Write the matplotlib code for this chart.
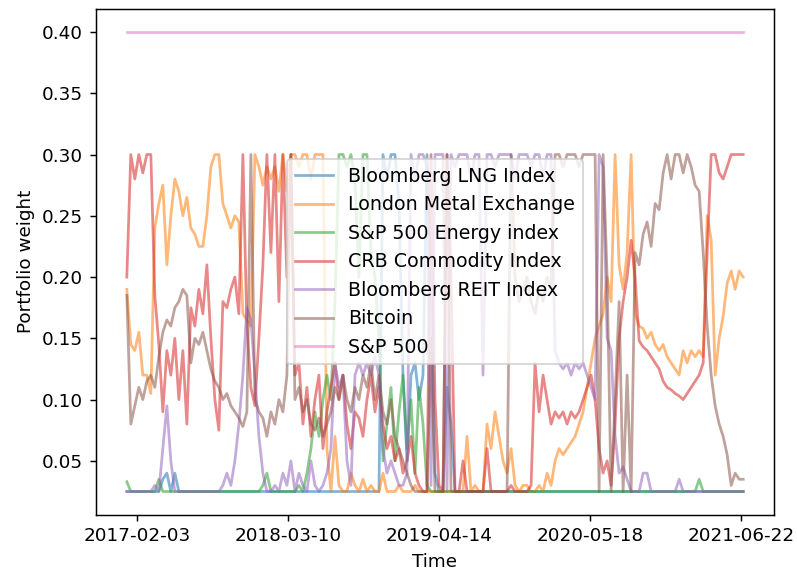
import matplotlib
matplotlib.use("Agg")
import matplotlib.pyplot as plt
import matplotlib.dates as mdates
import pandas as pd

start_date = "2017-01-07"
end_date = "2021-06-27"
n_points = 155

tick_labels = ["2017-02-03", "2018-03-10", "2019-04-14", "2020-05-18", "2021-06-22"]

names = ["Bloomberg LNG Index", "London Metal Exchange", "S&P 500 Energy index",
         "CRB Commodity Index", "Bloomberg REIT Index", "Bitcoin", "S&P 500"]

lng = [
    0.025, 0.025, 0.025, 0.025, 0.025, 0.025, 0.025, 0.025, 0.025, 0.035,
    0.04, 0.025, 0.04, 0.025, 0.025, 0.025, 0.025, 0.025, 0.025, 0.025,
    0.025, 0.025, 0.025, 0.025, 0.025, 0.025, 0.025, 0.025, 0.025, 0.025,
    0.025, 0.025, 0.025, 0.025, 0.025, 0.025, 0.025, 0.025, 0.025, 0.025,
    0.025, 0.025, 0.025, 0.025, 0.025, 0.025, 0.025, 0.025, 0.025, 0.025,
    0.025, 0.025, 0.025, 0.025, 0.025, 0.025, 0.025, 0.025, 0.025, 0.025,
    0.025, 0.025, 0.025, 0.025, 0.30, 0.28, 0.30, 0.30, 0.26, 0.12,
    0.05, 0.12, 0.13, 0.10, 0.12, 0.30, 0.20, 0.04, 0.025, 0.025,
    0.11, 0.08, 0.025, 0.025, 0.025, 0.025, 0.025, 0.025, 0.025, 0.025,
    0.025, 0.025, 0.025, 0.025, 0.025, 0.025, 0.025, 0.025, 0.025, 0.025,
    0.025, 0.025, 0.025, 0.025, 0.025, 0.025, 0.025, 0.025, 0.025, 0.025,
    0.025, 0.025, 0.025, 0.025, 0.025, 0.025, 0.025, 0.025, 0.025, 0.025,
    0.025, 0.025, 0.025, 0.025, 0.025, 0.025, 0.025, 0.025, 0.025, 0.025,
    0.025, 0.025, 0.025, 0.025, 0.025, 0.025, 0.025, 0.025, 0.025, 0.025,
    0.025, 0.025, 0.025, 0.025, 0.025, 0.025, 0.025, 0.025, 0.025, 0.025,
    0.025, 0.025, 0.025, 0.025, 0.025,
]

lme = [
    0.19, 0.145, 0.14, 0.155, 0.12, 0.12, 0.105, 0.24, 0.26, 0.275,
    0.21, 0.25, 0.28, 0.27, 0.25, 0.265, 0.24, 0.235, 0.225, 0.225,
    0.25, 0.29, 0.30, 0.30, 0.26, 0.25, 0.24, 0.25, 0.245, 0.17,
    0.165, 0.16, 0.30, 0.29, 0.275, 0.29, 0.28, 0.29, 0.27, 0.30,
    0.27, 0.30, 0.30, 0.29, 0.30, 0.30, 0.28, 0.30, 0.30, 0.30,
    0.06, 0.025, 0.07, 0.03, 0.025, 0.025, 0.04, 0.03, 0.025, 0.035,
    0.025, 0.03, 0.025, 0.025, 0.04, 0.025, 0.025, 0.025, 0.03, 0.025,
    0.025, 0.025, 0.03, 0.025, 0.025, 0.025, 0.025, 0.025, 0.025, 0.025,
    0.025, 0.025, 0.025, 0.025, 0.025, 0.07, 0.025, 0.03, 0.025, 0.025,
    0.08, 0.06, 0.09, 0.07, 0.05, 0.04, 0.06, 0.03, 0.025, 0.03,
    0.03, 0.025, 0.025, 0.03, 0.025, 0.04, 0.03, 0.05, 0.06, 0.055,
    0.06, 0.065, 0.07, 0.08, 0.09, 0.11, 0.13, 0.15, 0.16, 0.17,
    0.20, 0.18, 0.30, 0.21, 0.19, 0.22, 0.30, 0.17, 0.16, 0.158,
    0.15, 0.155, 0.145, 0.14, 0.145, 0.135, 0.13, 0.125, 0.12, 0.14,
    0.13, 0.14, 0.135, 0.14, 0.135, 0.25, 0.23, 0.12, 0.15, 0.168,
    0.195, 0.205, 0.19, 0.205, 0.20,
]

energy = [
    0.033, 0.025, 0.025, 0.025, 0.025, 0.025, 0.025, 0.025, 0.035, 0.025,
    0.025, 0.025, 0.025, 0.025, 0.025, 0.025, 0.025, 0.025, 0.025, 0.025,
    0.025, 0.025, 0.025, 0.025, 0.025, 0.025, 0.025, 0.025, 0.025, 0.025,
    0.025, 0.025, 0.025, 0.025, 0.03, 0.04, 0.025, 0.025, 0.025, 0.025,
    0.025, 0.025, 0.025, 0.03, 0.025, 0.04, 0.06, 0.09, 0.07, 0.10,
    0.12, 0.10, 0.18, 0.30, 0.30, 0.29, 0.30, 0.28, 0.20, 0.30,
    0.30, 0.22, 0.20, 0.15, 0.05, 0.08, 0.11, 0.05, 0.09, 0.12,
    0.06, 0.10, 0.04, 0.11, 0.08, 0.03, 0.025, 0.025, 0.025, 0.025,
    0.025, 0.025, 0.025, 0.025, 0.025, 0.025, 0.025, 0.025, 0.025, 0.025,
    0.025, 0.025, 0.025, 0.025, 0.025, 0.025, 0.025, 0.025, 0.025, 0.025,
    0.025, 0.025, 0.025, 0.025, 0.025, 0.025, 0.025, 0.025, 0.025, 0.025,
    0.025, 0.025, 0.025, 0.025, 0.025, 0.025, 0.025, 0.025, 0.025, 0.025,
    0.025, 0.025, 0.025, 0.025, 0.025, 0.025, 0.025, 0.025, 0.025, 0.025,
    0.025, 0.025, 0.025, 0.025, 0.025, 0.025, 0.025, 0.025, 0.025, 0.025,
    0.025, 0.025, 0.025, 0.035, 0.025, 0.025, 0.025, 0.025, 0.025, 0.025,
    0.025, 0.025, 0.025, 0.025, 0.025,
]

crb = [
    0.20, 0.30, 0.28, 0.30, 0.285, 0.30, 0.30, 0.185, 0.145, 0.09,
    0.14, 0.12, 0.15, 0.10, 0.14, 0.08, 0.175, 0.16, 0.19, 0.17,
    0.21, 0.15, 0.10, 0.075, 0.18, 0.175, 0.19, 0.20, 0.17, 0.30,
    0.16, 0.11, 0.095, 0.15, 0.21, 0.30, 0.22, 0.30, 0.18, 0.30,
    0.20, 0.30, 0.12, 0.13, 0.08, 0.11, 0.07, 0.10, 0.12, 0.06,
    0.09, 0.11, 0.13, 0.10, 0.12, 0.08, 0.06, 0.09, 0.085, 0.07,
    0.10, 0.12, 0.09, 0.11, 0.08, 0.06, 0.07, 0.05, 0.06, 0.04,
    0.05, 0.07, 0.04, 0.03, 0.025, 0.025, 0.30, 0.10, 0.03, 0.025,
    0.30, 0.20, 0.025, 0.025, 0.05, 0.025, 0.025, 0.025, 0.025, 0.025,
    0.06, 0.025, 0.025, 0.025, 0.025, 0.025, 0.03, 0.025, 0.025, 0.025,
    0.025, 0.03, 0.13, 0.09, 0.12, 0.10, 0.08, 0.09, 0.085, 0.09,
    0.08, 0.09, 0.085, 0.09, 0.10, 0.11, 0.12, 0.10, 0.06, 0.04,
    0.05, 0.03, 0.08, 0.15, 0.18, 0.20, 0.23, 0.20, 0.148, 0.143,
    0.14, 0.135, 0.13, 0.125, 0.115, 0.11, 0.108, 0.105, 0.103, 0.10,
    0.105, 0.11, 0.115, 0.12, 0.13, 0.22, 0.30, 0.30, 0.285, 0.28,
    0.29, 0.30, 0.30, 0.30, 0.30,
]

reit = [
    0.025, 0.025, 0.025, 0.025, 0.025, 0.025, 0.025, 0.03, 0.025, 0.06,
    0.095, 0.05, 0.025, 0.025, 0.025, 0.025, 0.025, 0.025, 0.025, 0.025,
    0.025, 0.025, 0.025, 0.025, 0.03, 0.04, 0.03, 0.05, 0.08, 0.12,
    0.175, 0.165, 0.12, 0.07, 0.04, 0.025, 0.025, 0.03, 0.025, 0.04,
    0.03, 0.05, 0.025, 0.04, 0.03, 0.025, 0.05, 0.03, 0.025, 0.03,
    0.04, 0.06, 0.13, 0.11, 0.12, 0.05, 0.03, 0.12, 0.13, 0.12,
    0.13, 0.12, 0.135, 0.12, 0.06, 0.04, 0.05, 0.04, 0.03, 0.03,
    0.04, 0.30, 0.28, 0.30, 0.30, 0.29, 0.03, 0.30, 0.30, 0.30,
    0.025, 0.30, 0.29, 0.30, 0.30, 0.30, 0.28, 0.30, 0.30, 0.12,
    0.30, 0.30, 0.29, 0.30, 0.30, 0.30, 0.30, 0.28, 0.30, 0.30,
    0.30, 0.29, 0.30, 0.30, 0.28, 0.30, 0.30, 0.14, 0.13, 0.125,
    0.13, 0.12, 0.13, 0.125, 0.13, 0.12, 0.11, 0.10, 0.30, 0.29,
    0.15, 0.14, 0.07, 0.04, 0.045, 0.035, 0.025, 0.025, 0.025, 0.04,
    0.04, 0.025, 0.025, 0.025, 0.025, 0.025, 0.025, 0.025, 0.035, 0.025,
    0.025, 0.025, 0.025, 0.025, 0.025, 0.025, 0.025, 0.025, 0.025, 0.025,
    0.025, 0.025, 0.025, 0.025, 0.025,
]

bitcoin = [
    0.185, 0.08, 0.095, 0.11, 0.10, 0.115, 0.12, 0.11, 0.135, 0.155,
    0.165, 0.16, 0.175, 0.18, 0.19, 0.185, 0.13, 0.15, 0.145, 0.155,
    0.14, 0.125, 0.115, 0.11, 0.10, 0.105, 0.095, 0.09, 0.085, 0.078,
    0.09, 0.30, 0.10, 0.09, 0.085, 0.07, 0.09, 0.08, 0.10, 0.09,
    0.12, 0.30, 0.10, 0.11, 0.09, 0.10, 0.08, 0.075, 0.085, 0.07,
    0.08, 0.09, 0.11, 0.10, 0.12, 0.10, 0.09, 0.11, 0.10, 0.12,
    0.11, 0.13, 0.10, 0.12, 0.09, 0.08, 0.10, 0.07, 0.06, 0.05,
    0.04, 0.03, 0.025, 0.025, 0.025, 0.025, 0.15, 0.025, 0.025, 0.025,
    0.30, 0.025, 0.025, 0.025, 0.025, 0.025, 0.025, 0.025, 0.025, 0.025,
    0.025, 0.025, 0.025, 0.025, 0.025, 0.025, 0.30, 0.20, 0.18, 0.19,
    0.20, 0.18, 0.17, 0.19, 0.18, 0.20, 0.19, 0.30, 0.30, 0.29,
    0.30, 0.30, 0.30, 0.29, 0.30, 0.30, 0.30, 0.30, 0.025, 0.30,
    0.20, 0.025, 0.10, 0.18, 0.025, 0.12, 0.025, 0.22, 0.21, 0.235,
    0.245, 0.225, 0.26, 0.255, 0.285, 0.30, 0.28, 0.30, 0.30, 0.285,
    0.30, 0.29, 0.275, 0.27, 0.22, 0.16, 0.12, 0.095, 0.08, 0.07,
    0.055, 0.03, 0.04, 0.035, 0.035,
]

sp500 = [0.40] * n_points

series = [lng, lme, energy, crb, reit, bitcoin, sp500]

plt.rcParams["font.family"] = ["DejaVu Sans"]
fig = plt.figure(figsize=(797 / 132, 573 / 132), dpi=132)
ax = fig.add_axes([96 / 797, 1 - 514.5 / 573, (774 - 96) / 797, (514.5 - 9) / 573])

dates = pd.date_range(start_date, end_date, periods=n_points)
for name, vals in zip(names, series):
    ax.plot(dates, vals, label=name, alpha=0.55, linewidth=1.5)

ax.set_xticks(pd.to_datetime(tick_labels))
ax.xaxis.set_major_formatter(mdates.DateFormatter("%Y-%m-%d"))
ax.set_xlabel("Time")
ax.set_ylabel("Portfolio weight")
ax.legend(loc="center", fontsize=10.4)

fig.savefig("out.png", dpi=132)
